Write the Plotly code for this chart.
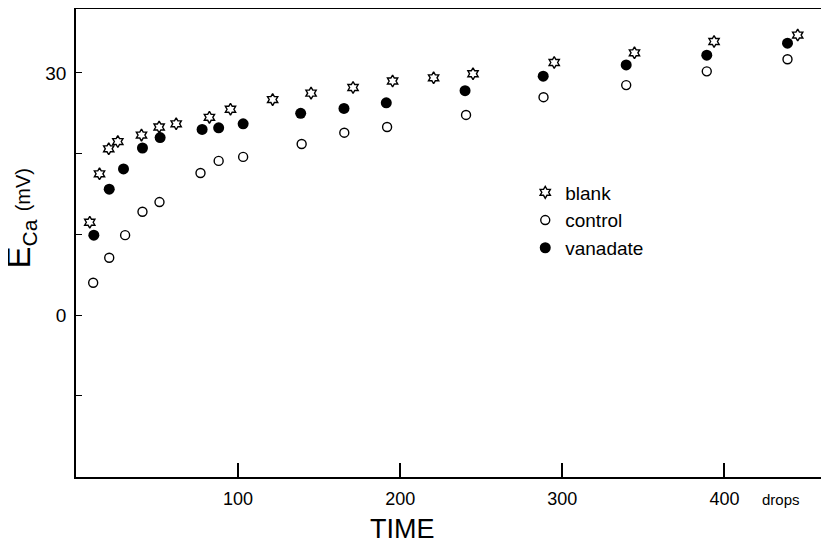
import plotly.graph_objects as go

# ---- data ----
blank_x = [8.5, 14.5, 20.2, 25.8, 40.4, 51.3, 61.8, 82.3, 95.3, 121.3, 145.0, 170.9, 195.3, 220.6, 244.9, 295.0, 344.5, 393.6, 445.2]
blank_y = [11.5, 17.5, 20.6, 21.5, 22.3, 23.3, 23.7, 24.5, 25.5, 26.7, 27.5, 28.2, 29.0, 29.4, 29.9, 31.3, 32.5, 33.9, 34.7]

control_x = [10.6, 20.5, 30.3, 41.0, 51.5, 76.8, 88.0, 103.1, 139.2, 165.5, 191.9, 240.6, 288.4, 339.4, 389.1, 438.9]
control_y = [4.0, 7.1, 9.9, 12.8, 14.0, 17.6, 19.1, 19.6, 21.2, 22.6, 23.3, 24.8, 27.0, 28.5, 30.2, 31.7]

vanadate_x = [11.0, 20.5, 29.3, 41.0, 51.9, 77.8, 88.0, 103.1, 138.6, 165.3, 191.4, 240.0, 288.2, 339.4, 389.1, 438.9]
vanadate_y = [9.9, 15.6, 18.1, 20.7, 22.0, 23.0, 23.2, 23.7, 25.0, 25.6, 26.3, 27.8, 29.6, 31.0, 32.2, 33.7]

x_tickvals = [100, 200, 300, 400]
x_ticktext = ["100", "200", "300", "400"]
y_tickvals = [0, 30]
y_ticktext = ["0", "30"]

FONT = "Liberation Sans, Arial, Helvetica, sans-serif"

fig = go.Figure()
fig.add_trace(go.Scatter(
    x=blank_x, y=blank_y, mode="markers", name="blank",
    marker=dict(symbol="hexagram-open", size=9, color="black", line=dict(width=1.4, color="black")),
))
fig.add_trace(go.Scatter(
    x=control_x, y=control_y, mode="markers", name="control",
    marker=dict(symbol="circle-open", size=9, color="black", line=dict(width=1.4, color="black")),
))
fig.add_trace(go.Scatter(
    x=vanadate_x, y=vanadate_y, mode="markers", name="vanadate",
    marker=dict(symbol="circle", size=11, color="black", line=dict(width=0)),
))

# page body keeps its default 8px margin, so the figure is sized to fill the rest of the window
fig.update_layout(
    width=821, height=539,
    margin=dict(l=67.5, r=0, t=1, b=70),
    paper_bgcolor="white", plot_bgcolor="white",
    font=dict(family=FONT, color="black", size=18),
    showlegend=True,
    legend=dict(
        x=0.5966, y=0.6485, xanchor="left", yanchor="top",
        bgcolor="rgba(0,0,0,0)", borderwidth=0,
        font=dict(family=FONT, size=19, color="black"),
        tracegroupgap=0,
    ),
    xaxis=dict(
        range=[0, 464.5], showgrid=False, zeroline=False,
        showline=True, linecolor="black", linewidth=1.6, mirror=True,
        ticks="inside", ticklen=14, tickwidth=1.6, tickcolor="black",
        tickvals=x_tickvals, ticktext=x_ticktext,
        tickfont=dict(family=FONT, size=18, color="black"),
        ticklabelstandoff=5,
    ),
    yaxis=dict(
        range=[-20.08, 37.93], showgrid=False, zeroline=False,
        showline=True, linecolor="black", linewidth=1.6,
        ticks="inside", ticklen=6, tickwidth=1.4, tickcolor="black",
        tickvals=y_tickvals, ticktext=y_ticktext,
        tickfont=dict(family=FONT, size=19, color="black"),
        ticklabelstandoff=4,
        minor=dict(tick0=0, dtick=10, ticks="inside", ticklen=6, tickwidth=1.4, tickcolor="black", showgrid=False),
    ),
)

# axis titles and unit label
fig.add_annotation(
    text="TIME", xref="paper", yref="paper", x=0.4333, y=-0.1111,
    xanchor="center", yanchor="middle", showarrow=False,
    font=dict(family=FONT, size=27, color="black"),
)
fig.add_annotation(
    text="drops", xref="paper", yref="paper", x=0.9363, y=-0.0491,
    xanchor="center", yanchor="middle", showarrow=False,
    font=dict(family=FONT, size=15, color="black"),
)
fig.add_annotation(
    text="<span style='font-size:33px'>E</span><sub>Ca</sub> <span style='font-size:20px'>(mV)</span>",
    xref="paper", yref="paper", x=-0.0737, y=0.5534,
    xanchor="center", yanchor="middle", textangle=-90, showarrow=False,
    font=dict(family=FONT, size=30, color="black"),
)

fig.write_html("out.html")
